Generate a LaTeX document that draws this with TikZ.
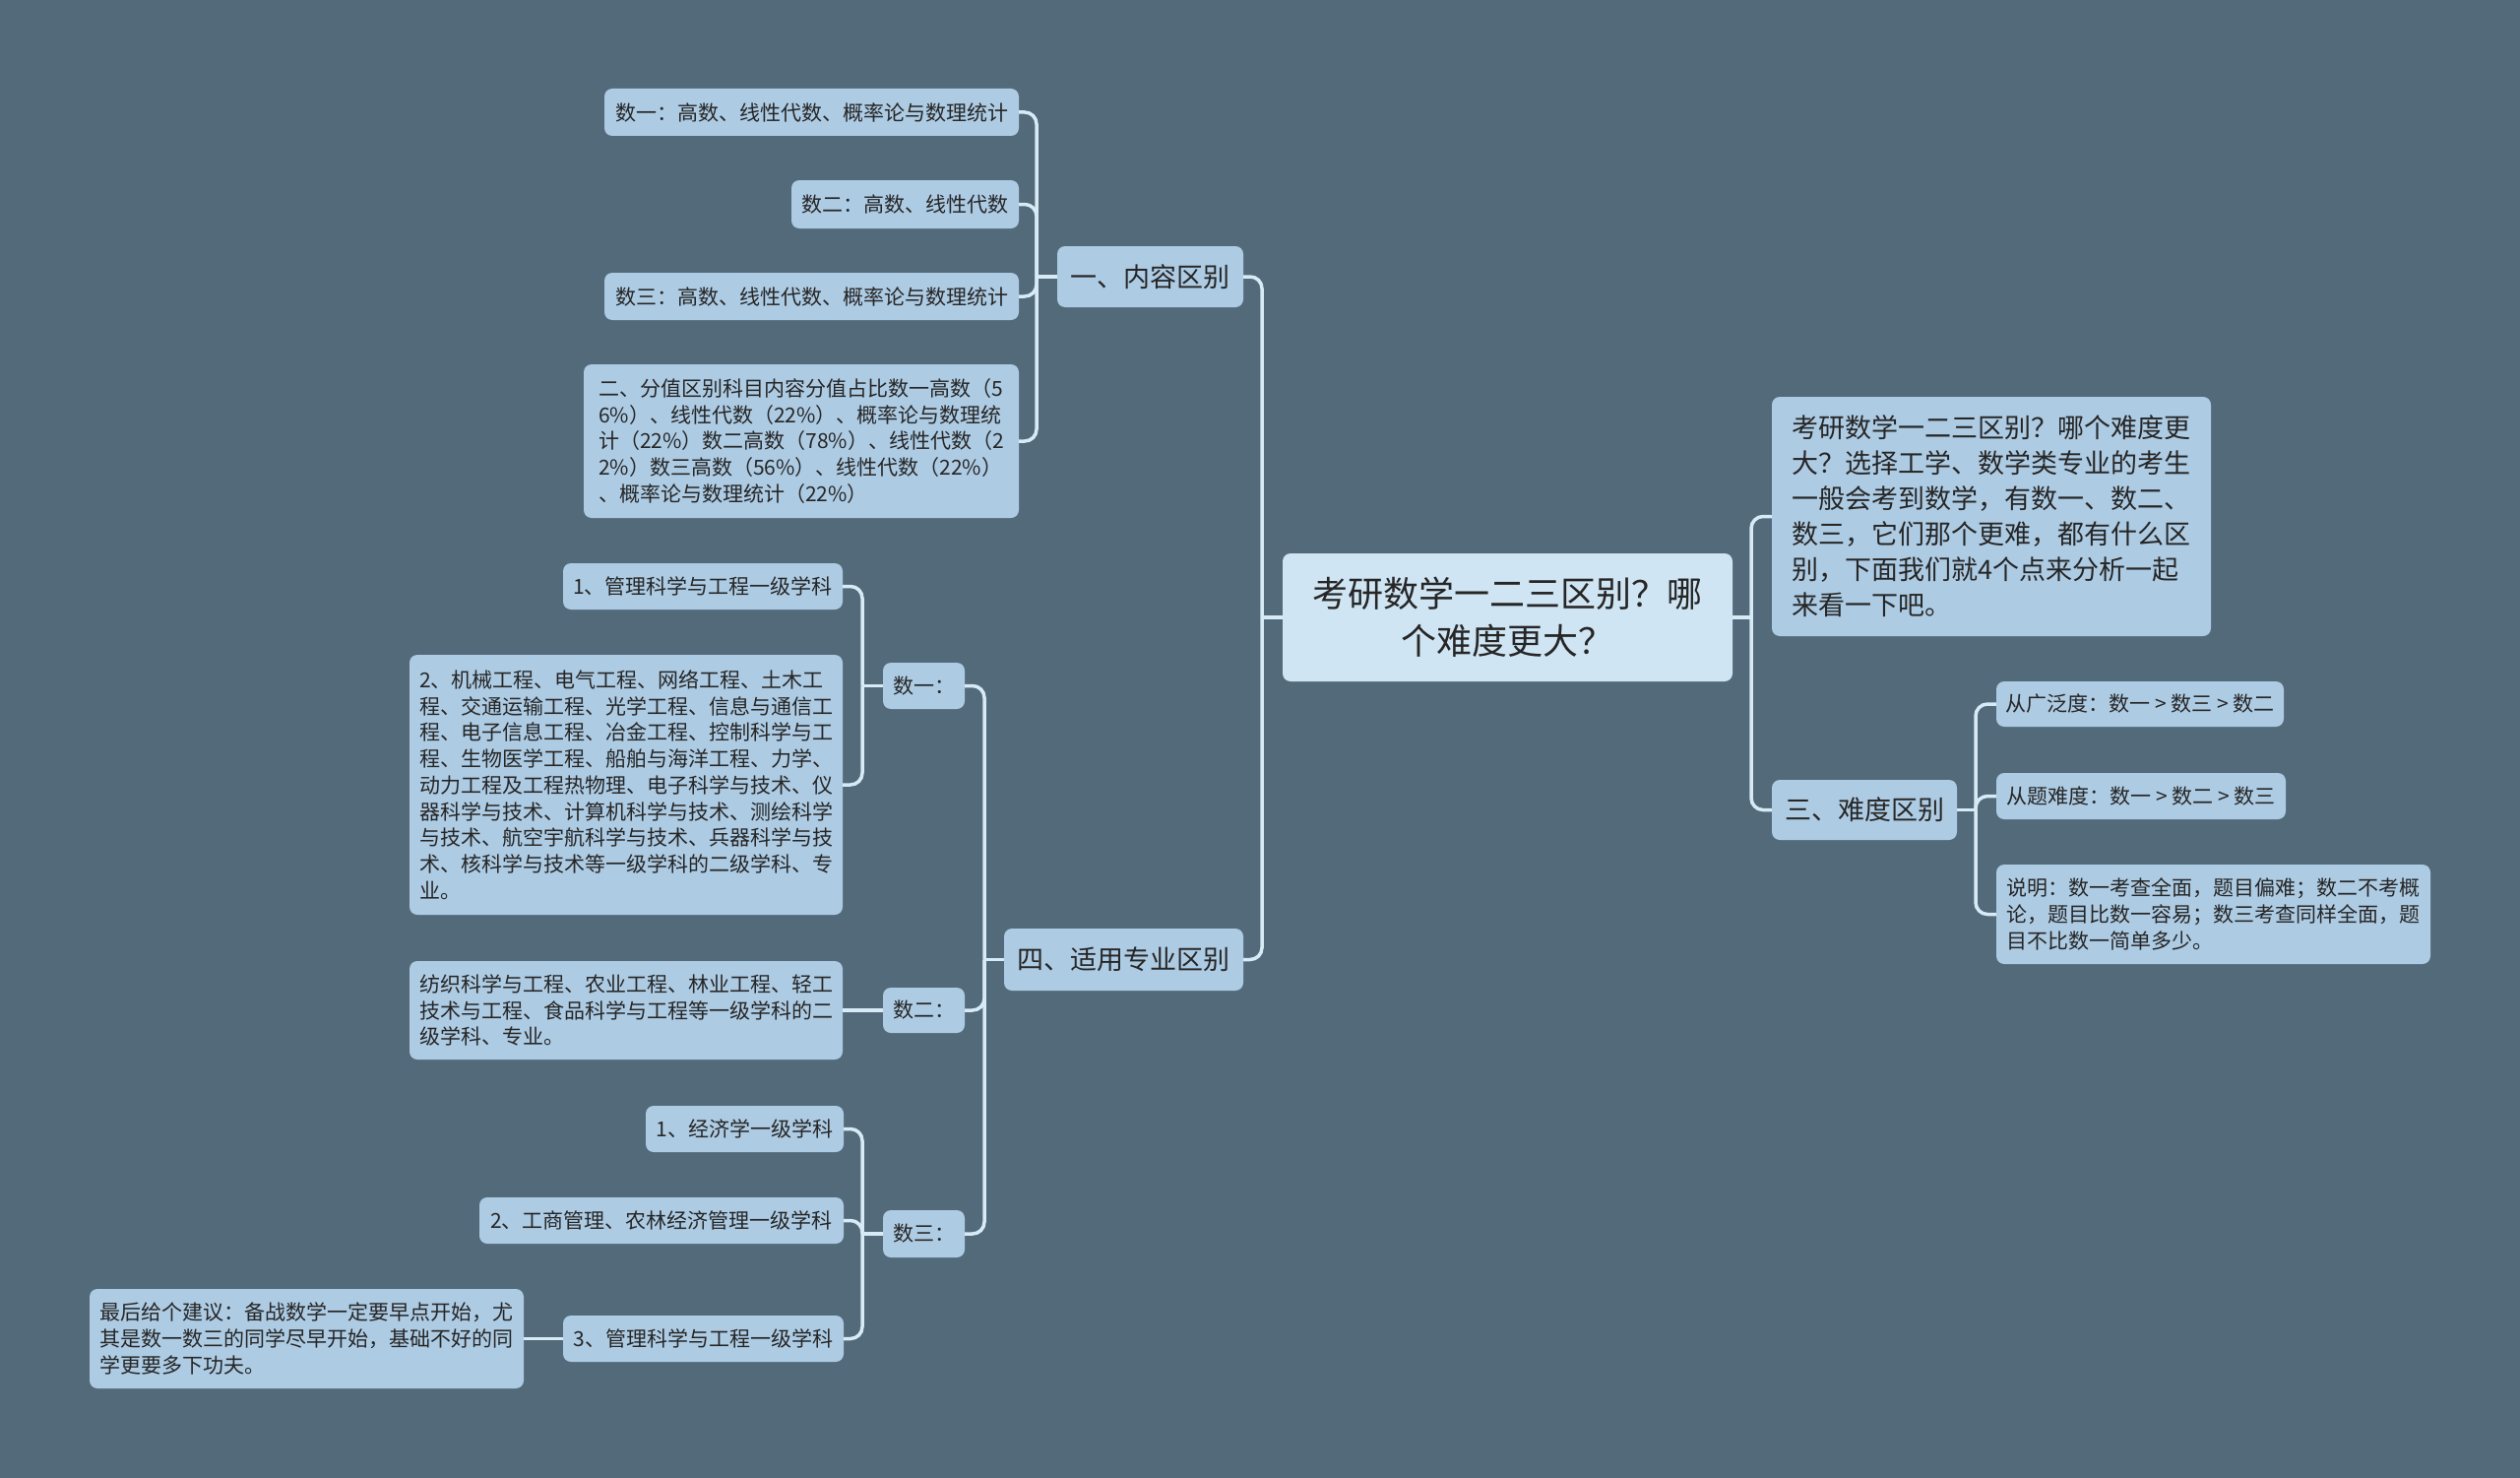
\documentclass[tikz,border=0pt]{standalone}
\usepackage{fontspec}
\setmainfont{Noto Sans CJK SC}
\definecolor{bgc}{HTML}{536A7A}
\definecolor{leafc}{HTML}{ADCBE3}
\definecolor{rootc}{HTML}{CFE5F3}
\definecolor{linec}{HTML}{D6EBF6}
\definecolor{txtc}{HTML}{262626}
\tikzset{
  basebox/.style={rectangle, rounded corners=8pt, inner sep=0pt, text=txtc, align=left},
  leafbox/.style={basebox, fill=leafc, font=\fontsize{21pt}{26.7pt}\selectfont},
  midbox/.style={basebox, fill=leafc, font=\fontsize{27pt}{36pt}\selectfont},
  rootbox/.style={basebox, fill=rootc, align=center, font=\fontsize{36pt}{48pt}\selectfont},
  conn/.style={draw=linec, line width=3.5pt},
  elbowline/.style={conn, rounded corners=12pt}
}
\begin{document}
\begin{tikzpicture}[x=1pt,y=-1pt]
\fill[bgc] (0,0) rectangle (2560,1501);
\useasboundingbox (0,0) rectangle (2560,1501);

% root
\node[rootbox, minimum width=457pt, minimum height=130pt] (root) at (1531.5,627) {考研数学一二三区别？哪\\个难度更大？};

% right side
\node[midbox, minimum width=446pt, minimum height=243pt] (intro) at (2023,524.5) {考研数学一二三区别？哪个难度更\\大？选择工学、数学类专业的考生\\一般会考到数学，有数一、数二、\\数三，它们那个更难，都有什么区\\别，下面我们就4个点来分析一起\\来看一下吧。};
\node[midbox, minimum width=188pt, minimum height=61pt] (c3) at (1894,822.5) {三、难度区别};
\node[leafbox, minimum width=292pt, minimum height=46pt] (d1) at (2174,715) {从广泛度：数一 > 数三 > 数二};
\node[leafbox, minimum width=294pt, minimum height=47pt] (d2) at (2175,808.5) {从题难度：数一 > 数二 > 数三};
\node[leafbox, minimum width=441pt, minimum height=101pt] (d3) at (2248.5,928.5) {说明：数一考查全面，题目偏难；数二不考概\\论，题目比数一容易；数三考查同样全面，题\\目不比数一简单多少。};

% left: part one
\node[midbox, minimum width=189pt, minimum height=62pt] (c1) at (1168.5,281) {一、内容区别};
\node[leafbox, minimum width=421pt, minimum height=48pt] (e1) at (824.5,114) {数一：高数、线性代数、概率论与数理统计};
\node[leafbox, minimum width=231pt, minimum height=49pt] (e2) at (919.5,207.5) {数二：高数、线性代数};
\node[leafbox, minimum width=421pt, minimum height=48pt] (e3) at (824.5,301) {数三：高数、线性代数、概率论与数理统计};
\node[leafbox, minimum width=442pt, minimum height=156pt] (e4) at (814,448) {二、分值区别科目内容分值占比数一高数（5\\6\%）、线性代数（22\%）、概率论与数理统\\计（22\%）数二高数（78\%）、线性代数（2\\2\%）数三高数（56\%）、线性代数（22\%）\\、概率论与数理统计（22\%）};

% left: part four
\node[midbox, minimum width=243pt, minimum height=63pt] (c4) at (1141.5,974.5) {四、适用专业区别};
\node[leafbox, minimum width=83pt, minimum height=47pt] (s1) at (938.5,696.5) {数一：};
\node[leafbox, minimum width=83pt, minimum height=46pt] (s2) at (938.5,1026) {数二：};
\node[leafbox, minimum width=83pt, minimum height=48pt] (s3) at (938.5,1253) {数三：};
\node[leafbox, minimum width=284pt, minimum height=47pt] (a1) at (714,595.5) {1、管理科学与工程一级学科};
\node[leafbox, minimum width=440pt, minimum height=264pt] (a2) at (636,797) {2、机械工程、电气工程、网络工程、土木工\\程、交通运输工程、光学工程、信息与通信工\\程、电子信息工程、冶金工程、控制科学与工\\程、生物医学工程、船舶与海洋工程、力学、\\动力工程及工程热物理、电子科学与技术、仪\\器科学与技术、计算机科学与技术、测绘科学\\与技术、航空宇航科学与技术、兵器科学与技\\术、核科学与技术等一级学科的二级学科、专\\业。};
\node[leafbox, minimum width=440pt, minimum height=100pt] (b1) at (636,1026) {纺织科学与工程、农业工程、林业工程、轻工\\技术与工程、食品科学与工程等一级学科的二\\级学科、专业。};
\node[leafbox, minimum width=201pt, minimum height=47pt] (f1) at (756.5,1146.5) {1、经济学一级学科};
\node[leafbox, minimum width=370pt, minimum height=47pt] (f2) at (672,1239.5) {2、工商管理、农林经济管理一级学科};
\node[leafbox, minimum width=285pt, minimum height=47pt] (f3) at (714.5,1359.5) {3、管理科学与工程一级学科};
\node[leafbox, minimum width=441pt, minimum height=101pt] (g1) at (311.5,1359.5) {最后给个建议：备战数学一定要早点开始，尤\\其是数一数三的同学尽早开始，基础不好的同\\学更要多下功夫。};

% junction coordinates
\coordinate (L0) at (1282,627);
\coordinate (B1) at (1053,281);
\coordinate (B4) at (1000,974.5);
\coordinate (S1) at (876,696.5);
\coordinate (S3) at (876,1253);
\coordinate (R0) at (1779,627);
\coordinate (R3) at (2007,822.5);

% connectors: root left
\draw[conn] (root.west) -- (L0);
\draw[elbowline] (L0) |- (c1.east);
\draw[elbowline] (L0) |- (c4.east);
% part one
\draw[conn] (c1.west) -- (B1);
\draw[elbowline] (B1) |- (e1.east);
\draw[elbowline] (B1) |- (e2.east);
\draw[elbowline] (B1) |- (e3.east);
\draw[elbowline] (B1) |- (e4.east);
% part four
\draw[conn] (c4.west) -- (B4);
\draw[elbowline] (B4) |- (s1.east);
\draw[elbowline] (B4) |- (s2.east);
\draw[elbowline] (B4) |- (s3.east);
\draw[conn] (s1.west) -- (S1);
\draw[elbowline] (S1) |- (a1.east);
\draw[elbowline] (S1) |- (a2.east);
\draw[conn] (s2.west) -- (b1.east);
\draw[conn] (s3.west) -- (S3);
\draw[elbowline] (S3) |- (f1.east);
\draw[elbowline] (S3) |- (f2.east);
\draw[elbowline] (S3) |- (f3.east);
\draw[conn] (f3.west) -- (g1.east);
% right side
\draw[conn] (root.east) -- (R0);
\draw[elbowline] (R0) |- (intro.west);
\draw[elbowline] (R0) |- (c3.west);
\draw[conn] (c3.east) -- (R3);
\draw[elbowline] (R3) |- (d1.west);
\draw[elbowline] (R3) |- (d2.west);
\draw[elbowline] (R3) |- (d3.west);
\end{tikzpicture}
\end{document}
